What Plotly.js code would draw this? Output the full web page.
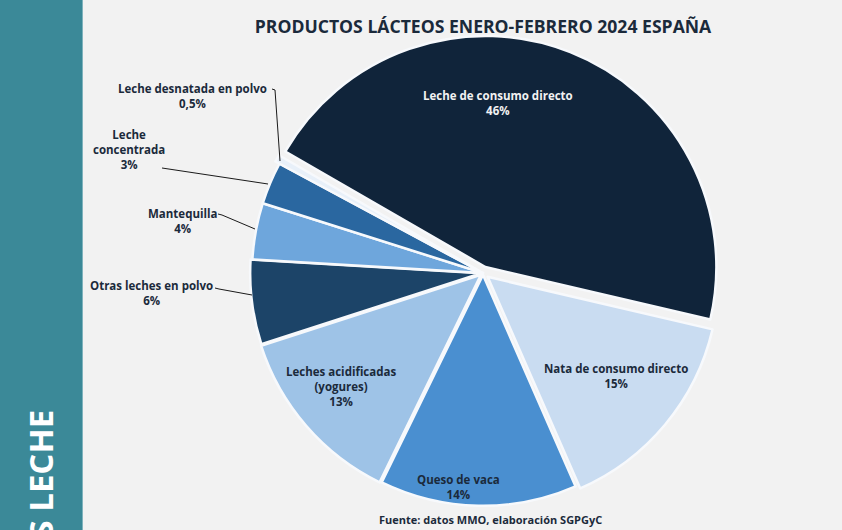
<!DOCTYPE html>
<html>
<head>
<meta charset="utf-8">
<script src="https://cdn.plot.ly/plotly-3.0.1.min.js"></script>
<style>
html,body{margin:0;padding:0;background:#f2f2f2;}
#chart{width:842px;height:530px;}
</style>
</head>
<body>
<div id="chart"></div>
<script>
// ---- data ----
var categories = ["Leche de consumo directo", "Nata de consumo directo", "Queso de vaca",
  "Leches acidificadas<br>(yogures)", "Otras leches en polvo", "Mantequilla",
  "Leche<br>concentrada", "Leche desnatada en polvo"];
var shares = [46, 15, 14, 13, 6, 4, 3, 0.5];
var shareLabels = ["46%", "15%", "14%", "13%", "6%", "4%", "3%", "0,5%"];
var titleText = "PRODUCTOS LÁCTEOS ENERO-FEBRERO 2024 ESPAÑA";
var sourceText = "Fuente: datos MMO, elaboración SGPGyC";
var sideText = "S LECHE";

// ---- styles ----
var colors = ["#10243a", "#c9dcf1", "#4a8fd0", "#9ec3e7", "#1c4468", "#6ea6dc", "#2a67a0", "#e8f0f9"];
var pulls = [0.028, 0.026, 0.008, 0.012, 0.008, 0.0, 0.0, 0.02];
var W = 842, H = 530;
function fx(x){ return x / W; }
function fy(y){ return 1 - y / H; }

var cx = 483, cy = 273, R = 231, maxPull = Math.max.apply(null, pulls);
var half = R * (1 + maxPull);

var FONT = "'Open Sans', sans-serif";
var dark = "#1b2a3b";

// label anchor positions (pixel), [x, y, color]
var labelPos = [
  [498, 103, "#f2f2f2"],
  [616, 376, dark],
  [458, 487, dark],
  [341, 386, dark],
  [151, 293, dark],
  [182, 221, dark],
  [129, 149, dark],
  [192, 96, dark]
];

var annotations = [];
for (var i = 0; i < categories.length; i++) {
  annotations.push({
    xref: "paper", yref: "paper",
    x: fx(labelPos[i][0]), y: fy(labelPos[i][1]),
    xanchor: "center", yanchor: "middle",
    text: "<b>" + categories[i] + "<br>" + shareLabels[i] + "</b>",
    showarrow: false,
    font: {family: FONT, size: 11.5, color: labelPos[i][2]},
    align: "center"
  });
}
annotations.push({
  xref: "paper", yref: "paper", x: fx(490), y: fy(519),
  xanchor: "center", yanchor: "middle", showarrow: false,
  text: "<b>" + sourceText + "</b>",
  font: {family: FONT, size: 11, color: dark}
});
annotations.push({
  xref: "paper", yref: "paper", x: fx(40), y: fy(408),
  xanchor: "center", yanchor: "top", showarrow: false,
  textangle: -90,
  text: "<b>" + sideText + "</b>",
  font: {family: FONT, size: 33, color: "#ffffff"}
});

var leaderColor = "#1a1a1a";
var shapes = [
  {type: "rect", xref: "paper", yref: "paper", x0: 0, x1: fx(82), y0: 0, y1: 1,
   fillcolor: "#3b8998", line: {width: 0}, layer: "below"},
  {type: "line", xref: "paper", yref: "paper", x0: fx(82.5), x1: fx(82.5), y0: 0, y1: 1,
   line: {color: "#7fb3bd", width: 1}},
  {type: "path", xref: "paper", yref: "paper",
   path: "M " + fx(272) + " " + fy(89) + " L " + fx(275) + " " + fy(90) + " L " + fx(280) + " " + fy(161),
   line: {color: leaderColor, width: 1}},
  {type: "line", xref: "paper", yref: "paper", x0: fx(162), y0: fy(168), x1: fx(268), y1: fy(184),
   line: {color: leaderColor, width: 1}},
  {type: "path", xref: "paper", yref: "paper",
   path: "M " + fx(218) + " " + fy(214) + " L " + fx(222) + " " + fy(215) + " L " + fx(255) + " " + fy(229),
   line: {color: leaderColor, width: 1}},
  {type: "path", xref: "paper", yref: "paper",
   path: "M " + fx(215) + " " + fy(288) + " L " + fx(219) + " " + fy(289) + " L " + fx(252) + " " + fy(295),
   line: {color: leaderColor, width: 1}}
];

var trace = {
  type: "pie",
  labels: categories,
  values: shares,
  sort: false,
  direction: "clockwise",
  rotation: -60,
  pull: pulls,
  textinfo: "none",
  hoverinfo: "label+percent",
  marker: {colors: colors, line: {color: "#f7f9fc", width: 2.5}},
  showlegend: false,
  domain: {
    x: [fx(cx - half), fx(cx + half)],
    y: [fy(cy + half), fy(cy - half)]
  }
};

var layout = {
  width: W, height: H,
  margin: {l: 0, r: 0, t: 0, b: 0},
  paper_bgcolor: "#f2f2f2",
  title: {
    text: "<b>" + titleText + "</b>",
    x: fx(483), xanchor: "center", y: fy(27), yanchor: "middle",
    font: {family: FONT, size: 17.6, color: dark}
  },
  annotations: annotations,
  shapes: shapes
};

Plotly.newPlot("chart", [trace], layout, {displayModeBar: false, staticPlot: true});
</script>
</body>
</html>
